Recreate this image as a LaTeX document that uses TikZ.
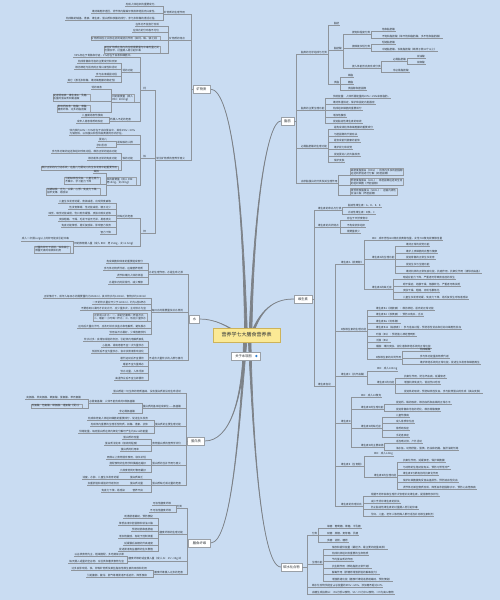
\documentclass[tikz,border=0pt]{standalone}
\usepackage{fontspec}
\setmainfont{Noto Sans CJK SC}
\definecolor{bgc}{HTML}{C9DCF2}
\definecolor{lnc}{HTML}{8E949B}
\definecolor{boxc}{HTML}{9AA0A7}
\definecolor{txt}{HTML}{2E3338}
\definecolor{cfill}{HTML}{FBE995}
\definecolor{cdraw}{HTML}{CDB35A}
\definecolor{cvc}{HTML}{7D8288}
\definecolor{iconc}{HTML}{2F7FD0}
\pgfdeclarelayer{paper}
\pgfdeclarelayer{curves}
\pgfsetlayers{paper,curves,main}
\newcommand\lfont{\fontsize{2.6}{3.1}\selectfont}
\newcommand\mfont{\fontsize{3.3}{4}\selectfont}
\newcommand\cfont{\fontsize{5}{6}\selectfont}
\tikzset{
 lf/.style={font=\lfont, text=txt, inner xsep=0.8pt, inner ysep=0.35pt, align=left},
 bx/.style={lf, draw=boxc, line width=0.3pt, inner sep=0.8pt},
 ln/.style={draw=lnc, line width=0.4pt},
 mn/.style={draw=boxc, fill=white, line width=0.4pt, font=\mfont, text=txt, inner xsep=2pt, inner ysep=1.6pt, minimum height=8pt},
 pt/.style={inner sep=0pt, minimum size=0pt},
 cv/.style={draw=cvc, fill=cvc, line width=0.7pt, line join=round},
 ctr/.style={draw=cdraw, fill=cfill, line width=0.5pt, font=\cfont, text=txt, minimum width=67pt, minimum height=14pt, inner sep=1pt},
}
\newcommand\myL[5]{\node[lf,anchor=south east] (#1) at (#3,#4) {#5};\draw[ln] (#2.south west) |- (#1.south west);}
\newcommand\myR[5]{\node[lf,anchor=south west] (#1) at (#3,#4) {#5};\draw[ln] (#2.south east) |- (#1.south east);}
\newcommand\myLB[5]{\node[bx,anchor=south east] (#1) at (#3,#4) {#5};\draw[ln] (#2.south west) |- (#1.south west);}
\newcommand\myRB[5]{\node[bx,anchor=south west] (#1) at (#3,#4) {#5};\draw[ln] (#2.south east) |- (#1.south east);}
% tapered connector: #1 start anchor, #2 #3 controls, #4 x offset at centre
\newcommand\taper[4]{\path[cv] (#1) .. controls #2 and #3 .. ([xshift=#4-1.4pt]c.center) -- ([xshift=#4+1.4pt]c.center) .. controls #3 and #2 .. (#1) -- cycle;}
\begin{document}
\begin{tikzpicture}[x=1pt,y=-1pt]
\begin{pgfonlayer}{paper}
\fill[bgc] (0,0) rectangle (500,600);
\end{pgfonlayer}
\useasboundingbox (0,0) rectangle (500,600);

% main nodes
\node[ctr] (c) at (246.5,335) {营养学七大膳食营养表};
\node[mn, minimum width=17pt] (km) at (201.5,89) {矿物质};
\node[mn, minimum width=10pt] (sh) at (194.5,319) {水};
\node[mn, minimum width=17pt] (db) at (196,441) {蛋白质};
\node[mn, minimum width=22pt] (xw) at (199.5,543) {膳食纤维};
\node[mn, minimum width=13pt] (zf) at (287.5,121) {脂肪};
\node[mn, minimum width=18pt] (ws) at (303,299) {维生素};
\node[mn, minimum width=21pt] (ts) at (291.5,567) {碳水化合物};
\node[mn, minimum width=29pt] (about) at (245.5,356) {关于本导图\hspace*{4pt}};
\node[circle, fill=iconc, inner sep=0pt, minimum size=2.6pt] (ico) at ([xshift=-3.8pt]about.east) {};

% central curves (tapered), behind the nodes
\begin{pgfonlayer}{curves}
\taper{km.east}{(232,89)}{(243,200)}{-0.5pt}
\taper{zf.west}{(268,121)}{(254,200)}{4pt}
\taper{ws.west}{(278,299)}{(262,305)}{5pt}
\taper{sh.east}{(215,319)}{(228,326)}{-6pt}
\taper{db.east}{(230,441)}{(243,400)}{-1.5pt}
\taper{xw.east}{(232,543)}{(240,420)}{-0.5pt}
\taper{ts.west}{(260,567)}{(252,420)}{3pt}
\end{pgfonlayer}

%================ 矿物质 =================
\node[pt] (kmS) at (191,89) {};
\draw[ln] (kmS) -- (km.west);
\myL{k1}{kmS}{186}{14}{矿物质的生理作用}
\myL{k11}{k1}{158}{6}{构成人体组织的重要成分。}
\myL{k12}{k1}{158}{13}{维持细胞渗透压，调节体内酸碱平衡及神经肌肉兴奋性。}
\myL{k13}{k1}{158}{20}{构成酶的辅基、激素、维生素、蛋白质和核酸的成分，参与多种酶的激活过程。}
\myL{k2}{kmS}{186}{40}{矿物质的特点}
\myL{k21}{k2}{160}{26}{在体内不能自行合成}
\myL{k22}{k2}{160}{32}{在体内的分布极不均匀}
\myLB{k23}{k2}{160}{40.5}{矿物质相互之间存在协同或拮抗作用（如钙、磷、镁之间）}
\myLB{k24}{k2}{160}{53}{某些矿物质在体内的生理需要量与中毒剂量之间\\范围较窄，过量摄入易引起中毒}
\myL{k3}{kmS}{186}{160}{常见矿物质的营养学意义}
% calcium
\myL{ca}{k3}{149}{90}{\hspace*{2pt}钙\hspace*{2pt}}
\myL{ca1}{ca}{134}{57}{99\%存在于骨骼和牙齿，1\%存在于血液和细胞中。}
\myL{ca2}{ca}{134}{72}{钙的功能}
\myL{ca21}{ca2}{118}{63}{构成骨骼和牙齿的主要成分和支架}
\myL{ca22}{ca2}{118}{69}{维持神经与肌肉的正常兴奋性和活动}
\myL{ca23}{ca2}{118}{76}{参与血液凝固过程}
\myL{ca24}{ca2}{118}{82}{其它（激活多种酶，维持细胞膜的稳定性）}
\myLB{ca3}{ca}{134}{102}{钙的需要量（成人\\RNI：800mg）}
\myL{ca31}{ca3}{103}{89}{钙的吸收}
\myLB{ca32}{ca3}{90}{101}{促进钙吸收：维生素D、乳糖、\\适量的蛋白质和氨基酸}
\myLB{ca33}{ca3}{90}{112}{影响钙吸收：植酸、草酸、\\膳食纤维、过多的脂肪酸}
\myL{ca4}{ca}{132}{121}{钙摄入不足的危害}
\myL{ca41}{ca4}{104}{117}{儿童期易患佝偻病}
\myL{ca42}{ca4}{104}{123}{成年人易患骨质疏松症}
% iron
\myL{fe}{k3}{149}{158}{\hspace*{2pt}铁\hspace*{2pt}}
\myL{fe1}{fe}{136}{135}{体内铁约60\%～70\%存在于血红蛋白中，其余25\%～30\%\\为储存铁，以铁蛋白和含铁血黄素的形式存在。}
\myL{fe2}{fe}{134}{144}{易缺铁的人群}
\myL{fe21}{fe2}{108}{141}{婴幼儿}
\myL{fe22}{fe2}{108}{147}{孕妇乳母}
\myL{fe3}{fe}{134}{160}{铁的功能}
\myL{fe31}{fe3}{118}{153}{参与体内氧的运送和组织呼吸过程，维持正常的造血功能}
\myL{fe32}{fe3}{118}{160}{维持机体正常的免疫功能}
\myLB{fe33}{fe3}{118}{170}{维护正常的内分泌系统，在胎儿与婴幼儿的生长发育中起重要作用}
\myLB{fe4}{fe}{136}{185}{铁的需要量（成人 RNI：\\男15mg，女20mg）}
\myL{fe41}{fe4}{100}{173}{缺铁}
\myLB{fe42}{fe4}{100}{184}{引起缺铁性贫血，儿童注意力\\不集中、学习能力下降}
\myLB{fe43}{fe4}{100}{195}{长期缺铁：乏力、头晕、心悸、免疫力下降，\\指甲变薄、易感染}
% zinc
\myL{zn}{k3}{149}{233}{\hspace*{2pt}锌\hspace*{2pt}}
\myL{zn1}{zn}{134}{218}{锌缺乏的危害}
\myL{zn11}{zn1}{112}{203}{儿童生长发育迟缓，食欲减退，出现异食癖等}
\myL{zn12}{zn1}{112}{209}{性发育障碍，性功能减退，精子过少}
\myL{zn13}{zn1}{112}{215}{味觉、嗅觉功能减退，伤口愈合缓慢，皮肤出现炎症等}
\myL{zn14}{zn1}{112}{221}{皮肤粗糙、干燥，毛发干枯无光泽，易患皮炎}
\myL{zn15}{zn1}{112}{227}{免疫功能降低，易反复感染，影响智力发育}
\myL{zn16}{zn1}{112}{234}{智力下降}
\myL{zn2}{zn}{136}{246}{锌的推荐摄入量（成人 RNI：男 15mg，女 11.5mg）}
\myL{zn21}{zn2}{70}{241}{成人一次摄入2g以上的锌可能会引起中毒}
\myLB{zn22}{zn2}{70}{253}{过量的锌可干扰铜、铁和其它\\微量元素的吸收和利用}

%================ 水 =================
\node[pt] (shS) at (188,319) {};
\draw[ln] (shS) -- (sh.west);
\myL{s1}{shS}{184}{274}{水的生理作用，水是生命之源}
\myL{s11}{s1}{144}{263}{构成细胞和体液的重要组成部分}
\myL{s12}{s1}{144}{270}{参与体内物质代谢，运输营养物质}
\myL{s13}{s1}{144}{277}{调节和维持人体的体温}
\myL{s14}{s1}{144}{284}{水是体内的润滑剂，减少摩擦}
\myL{s2}{shS}{184}{312}{每日水的需要量及补水原则}
\myL{s21}{s2}{147}{298}{正常情况下，成年人每日水的需要量约为2500ml，其中饮水约1200ml，食物水约1000ml}
\myL{s22}{s2}{147}{304}{一天的饮水量应不少于1200ml，约为6至8杯水}
\myL{s23}{s2}{147}{310}{不要感到口渴时才补充水分，应少量多次、主动饮水为宜}
\myLB{s24}{s2}{147}{321}{正常成人补水：一、晨起空腹喝一杯温开水；\\二、睡前一小时喝一杯水；三、饭前少量饮水}
\myL{s25}{s2}{147}{328}{运动后大量出汗时，应及时补充淡盐水和电解质，避免脱水}
\myL{s26}{s2}{147}{334}{饮用白开水最好，少喝含糖饮料}
\myL{s3}{shS}{184}{360}{不适合大量饮水的人群与情况}
\myL{s31}{s3}{145}{341}{饮水过多：会增加肾脏的负担，引起体内电解质紊乱}
\myL{s32}{s3}{145}{347}{心脏病、肾病患者不宜一次大量饮水}
\myL{s33}{s3}{145}{353}{饭前饭后不宜大量饮水，会冲淡胃液影响消化}
\myL{s34}{s3}{145}{360}{剧烈运动后不宜暴饮}
\myL{s35}{s3}{145}{366}{睡前不宜大量喝水}
\myL{s36}{s3}{145}{373}{饮水过量，人体浮肿}
\myL{s37}{s3}{145}{380}{高温作业后不宜立即暴饮}

%================ 蛋白质 =================
\node[pt] (dbS) at (186.5,441) {};
\draw[ln] (dbS) -- (db.west);
\myL{d1}{dbS}{182}{393}{蛋白质是一切生命的物质基础，没有蛋白质就没有生命活动}
\myL{d2}{dbS}{182}{408}{蛋白质的基本组成单位——氨基酸}
\myL{d21}{d2}{136}{403}{必需氨基酸：人体不能合成的9种氨基酸}
\myL{d211}{d21}{82}{399}{亮氨酸、异亮氨酸、赖氨酸、蛋氨酸、苯丙氨酸}
\myLB{d212}{d21}{82}{408}{苏氨酸、色氨酸、缬氨酸、组氨酸（婴儿）}
\myL{d22}{d2}{136}{413}{非必需氨基酸}
\myL{d3}{dbS}{182}{426}{蛋白质的主要生理功能}
\myL{d31}{d3}{149}{420}{构成和修复人体组织细胞的重要成分，促进生长发育}
\myL{d32}{d3}{149}{426}{构成体内重要的生理活性物质，如酶、激素、抗体}
\myL{d33}{d3}{149}{433}{供给能量，每克蛋白质在体内氧化分解可产生约4kcal的能量}
\myL{d4}{dbS}{182}{445}{食物蛋白质的营养学评价}
\myL{d41}{d4}{140}{439}{蛋白质的含量}
\myL{d42}{d4}{140}{445}{蛋白质消化率（吸收的程度）}
\myL{d43}{d4}{140}{451}{蛋白质的利用率}
\myL{d5}{dbS}{182}{465}{蛋白质的互补作用与意义}
\myL{d51}{d5}{147}{459}{两种以上食物混合食用，取长补短}
\myL{d52}{d5}{147}{465}{搭配食物的生物学种属越远越好}
\myL{d53}{d5}{147}{472}{几种食物同时食用最好}
\myL{d6}{dbS}{182}{485}{蛋白质缺乏或过量的危害}
\myL{d61}{d6}{144}{479}{蛋白质缺乏}
\myL{d611}{d61}{120}{479}{消瘦、水肿、儿童生长发育迟缓}
\myL{d62}{d6}{144}{485}{蛋白质过量}
\myL{d621}{d62}{120}{485}{加重肝脏和肾脏的代谢负担}
\myL{d63}{d6}{144}{492}{营养不良}
\myL{d631}{d63}{126}{492}{免疫力下降，易感染}

%================ 膳食纤维 =================
\node[pt] (xwS) at (187,543) {};
\draw[ln] (xwS) -- (xw.west);
\myL{x1}{xwS}{183}{508}{分类}
\myL{x11}{x1}{172}{505}{可溶性膳食纤维}
\myL{x12}{x1}{172}{512}{不可溶性膳食纤维}
\myL{x2}{xwS}{184}{534}{膳食纤维的生理功能}
\myL{x21}{x2}{154}{518}{刺激肠道蠕动，预防便秘}
\myL{x22}{x2}{154}{525}{降低血液中胆固醇和甘油三酯}
\myL{x23}{x2}{154}{531}{预防结肠和直肠癌}
\myL{x24}{x2}{154}{538}{增加饱腹感，有助于控制体重}
\myL{x25}{x2}{154}{545}{延缓餐后血糖的升高速度}
\myL{x26}{x2}{154}{551}{促进肠道有益菌群的生长繁殖}
\myL{x3}{xwS}{184}{561}{膳食纤维的适宜摄入量（成人 AI：25～35g/d）}
\myL{x31}{x3}{125}{556}{以谷类食物为主，粗细搭配，多吃蔬菜水果}
\myL{x32}{x3}{125}{563}{每天摄入适量的全谷物、杂豆类和薯类食物为宜}
\myL{x4}{xwS}{184}{574}{膳食纤维摄入过多的危害}
\myL{x41}{x4}{148}{570}{过多会影响钙、铁、锌等矿物质及某些脂溶性维生素的吸收和利用}
\myL{x42}{x4}{148}{577}{引起腹胀、腹泻、胀气等胃肠道不适症状，降低食欲}

%================ 脂肪 =================
\node[pt] (zfS) at (296,121) {};
\draw[ln] (zf.east) -- (zfS);
\myR{f1}{zfS}{300}{54}{脂类的化学组成与分类}
\myR{fa}{f1}{333}{25}{脂肪}
\myR{fb}{f1}{333}{50}{脂肪酸}
\myR{fb1}{fb}{351}{34}{按饱和程度分类}
\myR{fb11}{fb1}{381}{31}{饱和脂肪酸}
\myR{fb12}{fb1}{381}{38}{不饱和脂肪酸（单不饱和脂肪酸、多不饱和脂肪酸）}
\myR{fb2}{fb}{351}{48}{按碳链长短分类}
\myR{fb21}{fb2}{381}{44}{短链脂肪酸}
\myR{fb22}{fb2}{381}{51}{中链脂肪酸、长链脂肪酸（碳原子数14个以上）}
\myR{fb3}{fb}{351}{68}{按人体能否自身合成分类}
\myR{fb31}{fb3}{392}{61}{必需脂肪酸}
\myR{fb311}{fb31}{416}{58}{亚油酸}
\myR{fb312}{fb31}{416}{64}{亚麻酸}
\myR{fb32}{fb3}{392}{72}{非必需脂肪酸}
\myR{fc}{f1}{333}{84}{类脂}
\myR{fc1}{fc}{347}{77}{磷脂}
\myR{fc2}{fc}{347}{84}{糖脂}
\myR{fc3}{fc}{347}{90}{类固醇和胆固醇}
\myR{f2}{zfS}{300}{110}{脂类的主要生理功能}
\myR{f21}{f2}{332}{98}{供给能量：人体所需能量的20\%～25\%来自脂肪。}
\myR{f22}{f2}{332}{104}{维持体温恒定，保护和固定内脏器官}
\myR{f23}{f2}{332}{110}{构成组织细胞的重要成分}
\myR{f24}{f2}{332}{117}{增加饱腹感}
\myR{f25}{f2}{332}{123}{促进脂溶性维生素的吸收}
\myR{f3}{zfS}{300}{148}{必需脂肪酸的生理功能}
\myR{f31}{f3}{333}{129}{是构成线粒体和细胞膜的重要成分}
\myR{f32}{f3}{333}{136}{与胆固醇的代谢有关}
\myR{f33}{f3}{333}{142}{是合成前列腺素的前体}
\myR{f34}{f3}{333}{149}{维护视力和视觉}
\myR{f35}{f3}{333}{156}{促进婴幼儿的大脑发育}
\myR{f36}{f3}{333}{162}{保护皮肤}
\myR{f4}{zfS}{300}{183}{血浆脂蛋白的分类及其生理作用}
\myRB{f41}{f4}{350}{175.5}{高密度脂蛋白（HDL）：将体内多余的胆固醇\\运送到肝脏进行分解（好胆固醇）}
\myRB{f42}{f4}{350}{185.5}{低密度脂蛋白（LDL）：将胆固醇运送到全身\\的组织细胞（坏胆固醇）}
\myRB{f43}{f4}{350}{195.5}{极低密度脂蛋白（VLDL）：运输内源性\\甘油三酯（坏胆固醇）}

%================ 维生素 =================
\node[pt] (wsS) at (314,299) {};
\draw[ln] (ws.east) -- (wsS);
\myR{w1}{wsS}{317}{210}{维生素的命名与分类}
\myR{w11}{w1}{347}{207}{脂溶性维生素：A、D、E、K}
\myR{w12}{w1}{347}{214}{水溶性维生素：B族、C}
\myR{w2}{wsS}{317}{227}{维生素的共同特点}
\myR{w21}{w2}{346}{220}{存在于天然食物中}
\myR{w22}{w2}{346}{227}{不构成机体组织}
\myR{w23}{w2}{346}{233}{需要量很少}
\myR{w3}{wsS}{317}{386}{维生素各论\hspace*{3pt}}
\myR{wa}{w3}{340}{264}{维生素A（视黄醇）}
\myR{wa1}{wa}{371}{240}{RNI：成年男性800微克视黄醇当量，女性700微克视黄醇当量}
\myR{waf}{wa}{371}{259}{维生素A的生理功能}
\myR{waf1}{waf}{405}{246}{维持正常的视觉功能}
\myR{waf2}{waf}{405}{253}{维护上皮细胞的完整与健康}
\myR{waf3}{waf}{405}{259}{促进骨骼的正常生长发育}
\myR{waf4}{waf}{405}{266}{促进生长与生殖功能}
\myR{waf5}{waf}{405}{273}{维持机体的正常免疫功能，抗癌作用，抗氧化作用（清除自由基）}
\myR{wab}{wa}{371}{289}{维生素A的缺乏症}
\myR{wab1}{wab}{402}{279}{暗适应能力下降，严重者可导致夜盲症的发生}
\myR{wab2}{wab}{402}{286}{眼干燥症，结膜干燥，角膜软化，严重者可致失明}
\myR{wab3}{wab}{402}{292}{皮肤干燥、粗糙，出现毛囊角化}
\myR{wab4}{wab}{402}{299}{儿童生长发育迟缓，免疫力下降，易反复发生呼吸道感染}
\myR{wb}{w3}{340}{331}{B族维生素的生理功能}
\myR{wb1}{wb}{375}{310}{维生素B1（硫胺素）：维持神经、肌肉的正常功能}
\myR{wb2}{wb}{375}{316}{维生素B2（核黄素）：预防口角炎、舌炎}
\myR{wb3}{wb}{375}{323}{维生素B6（吡哆醇）}
\myR{wb4}{wb}{375}{329}{维生素B12（钴胺素）：参与造血过程，预防恶性贫血和巨幼红细胞性贫血}
\myR{wb5}{wb}{375}{336}{叶酸（B9）：预防胎儿神经管畸形}
\myR{wb6}{wb}{375}{342}{泛酸（B5）}
\myR{wb7}{wb}{375}{348}{烟酸：维持皮肤、消化道和神经系统的正常功能}
\myR{wbg}{wb}{375}{359}{B族维生素的共同作用}
\myR{wbg1}{wbg}{419}{351}{构成辅酶}
\myR{wbg2}{wbg}{419}{358}{参与体内能量及物质代谢}
\myR{wbg3}{wbg}{419}{364}{维护神经系统的正常功能，促进生长发育和细胞再生}
\myR{wc}{w3}{340}{376}{维生素C（抗坏血酸）}
\myR{wc1}{wc}{376}{371}{RNI：成人100mg}
\myR{wcf}{wc}{376}{384}{维生素C的功能}
\myR{wcf1}{wcf}{403}{378}{抗氧化作用，防治坏血病，延缓衰老}
\myR{wcf2}{wcf}{403}{384}{增强机体免疫力，促进伤口愈合}
\myR{wcf3}{wcf}{403}{393}{促进铁的吸收，预防缺铁性贫血，参与胶原蛋白的合成（美白皮肤）}
\myR{wd}{w3}{340}{423}{维生素D}
\myR{wd1}{wd}{360}{397}{RNI：成人10微克}
\myR{wdf}{wd}{360}{409}{维生素D的生理功能}
\myR{wdf1}{wdf}{395}{404}{促进钙、磷的吸收，维持血钙和血磷的正常水平}
\myR{wdf2}{wdf}{395}{411}{促进骨骼和牙齿的钙化，维持骨骼健康}
\myR{wdq}{wd}{360}{428}{维生素D的缺乏症}
\myR{wdq1}{wdq}{395}{417}{儿童佝偻病}
\myR{wdq2}{wdq}{395}{423}{成人骨质软化症}
\myR{wdq3}{wdq}{395}{430}{骨质疏松症}
\myR{wdq4}{wdq}{395}{437}{手足痉挛症}
\myR{wds}{wd}{360}{447}{维生素D的主要来源}
\myR{wds1}{wds}{395}{443}{适当晒太阳，户外活动}
\myR{wds2}{wds}{395}{450}{海水鱼、动物肝脏、蛋黄、奶油和奶酪、鱼肝油制剂等}
\myR{we}{w3}{340}{466}{维生素E（生育酚）}
\myR{we1}{we}{373}{456}{RNI：成人14mg}
\myR{wef}{we}{373}{477}{维生素E的生理功能}
\myR{wef1}{wef}{402}{462}{抗氧化作用，延缓衰老，保护细胞膜}
\myR{wef2}{wef}{402}{469}{与动物的生殖功能有关，预防习惯性流产}
\myR{wef3}{wef}{402}{475}{维生素E与硒有协同抗氧化作用}
\myR{wef4}{wef}{402}{482}{保护红细胞膜免受自由基损伤，预防溶血性贫血}
\myR{wef5}{wef}{402}{489}{调节体内某些物质合成，降低血浆胆固醇水平，预防心血管疾病}
\myR{wg}{w3}{340}{506}{维生素的合理补充}
\myR{wg1}{wg}{370}{496}{根据不同年龄和生理状况合理补充维生素，提倡食物多样化}
\myR{wg2}{wg}{370}{503}{减少烹调中维生素的损失}
\myR{wg3}{wg}{370}{509}{防止脂溶性维生素的过量摄入而引起中毒}
\myR{wg4}{wg}{370}{516}{孕妇、儿童、老年人等特殊人群可适当补充维生素制剂}

%================ 碳水化合物 =================
\node[pt] (tsS) at (307,567) {};
\draw[ln] (ts.east) -- (tsS);
\myR{t1}{tsS}{311}{535}{分类}
\myR{t11}{t1}{326}{528}{单糖：葡萄糖、果糖、半乳糖}
\myR{t12}{t1}{326}{535}{双糖：蔗糖、麦芽糖、乳糖}
\myR{t13}{t1}{326}{542}{多糖：淀粉、糖原}
\myR{t2}{tsS}{311}{564}{生理功能}
\myR{t21}{t2}{331}{549}{储存和提供能量（最经济、最主要的能量来源）}
\myR{t22}{t2}{331}{555}{构成机体组织及重要的生命物质}
\myR{t23}{t2}{331}{561}{节约蛋白质的作用}
\myR{t24}{t2}{331}{568}{抗生酮作用（帮助脂肪正常代谢）}
\myR{t25}{t2}{331}{574}{解毒作用（肝糖原增强肝脏的解毒能力）}
\myR{t26}{t2}{331}{581}{增强肠道功能（膳食纤维促进肠道蠕动，预防便秘）}
\myR{t3}{tsS}{311}{587}{碳水化合物供能宜占总能量的55\%～65\%，添加糖不超过10\%}
\myR{t4}{tsS}{311}{594}{血糖生成指数GI：<55为低GI食物，55～70为中GI食物，>70为高GI食物}
\end{tikzpicture}
\end{document}
